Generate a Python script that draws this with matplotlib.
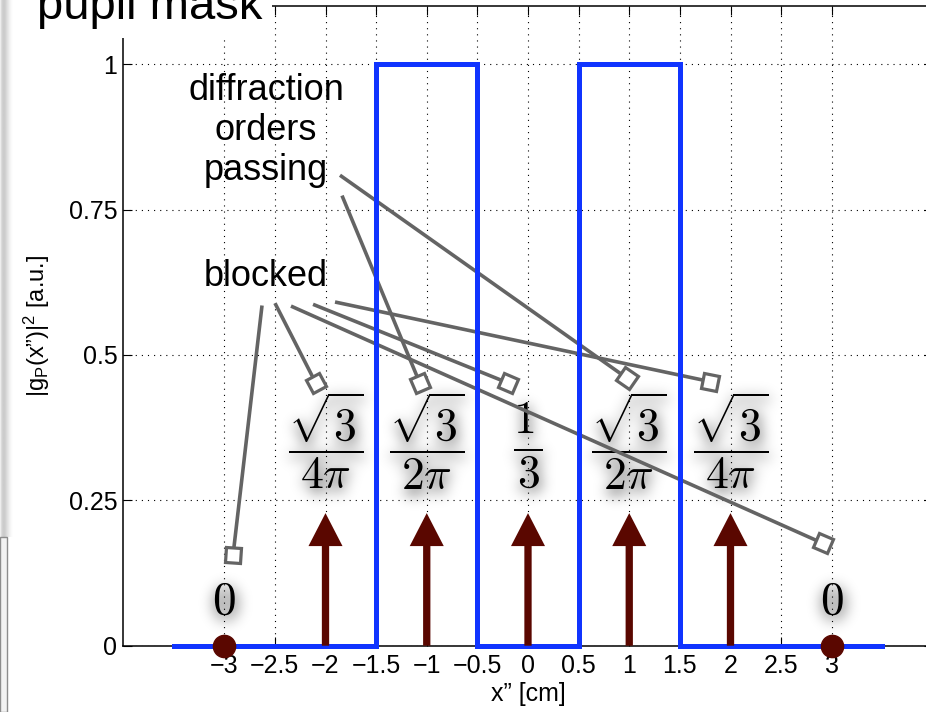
import numpy as np
import matplotlib
matplotlib.use("Agg")
import matplotlib.pyplot as plt
from matplotlib.markers import MarkerStyle
from matplotlib.transforms import Affine2D
from matplotlib.patches import Rectangle
from matplotlib.mathtext import MathTextParser

plt.rcParams['font.family'] = ['Liberation Sans', 'DejaVu Sans']
plt.rcParams['mathtext.fontset'] = 'custom'
plt.rcParams['mathtext.rm'] = 'Liberation Sans'
plt.rcParams['mathtext.it'] = 'Liberation Sans:italic'
plt.rcParams['mathtext.bf'] = 'Liberation Sans:bold'

# ---- data -------------------------------------------------------------
# pupil mask transmission |g_P(x'')|^2
mask_x = [-3.5, -1.5, -1.5, -0.5, -0.5, 0.5, 0.5, 1.5, 1.5, 3.5]
mask_y = [0, 0, 1, 1, 0, 0, 1, 1, 0, 0]

# diffraction orders (delta peaks) and their amplitude labels
order_x = [-2, -1, 0, 1, 2]
order_height = [0.228, 0.228, 0.228, 0.228, 0.228]
order_labels = [r'$\dfrac{\sqrt{3}}{4\pi}$', r'$\dfrac{\sqrt{3}}{2\pi}$',
                r'$\dfrac{1_{\hspace{0}}}{{}^{\hspace{0}}3}$',
                r'$\dfrac{\sqrt{3}}{2\pi}$', r'$\dfrac{\sqrt{3}}{4\pi}$']
order_label_y = [0.352, 0.352, 0.345, 0.352, 0.352]

# vanishing orders
zero_x = [-3, 3]
zero_y = [0, 0]
zero_labels = ['$0$', '$0$']
zero_label_y = 0.075

# callout lines: text anchor -> marked order
passing_start = [(-1.857, 0.809), (-1.837, 0.774)]
passing_end = [(0.978, 0.460), (-1.067, 0.451)]
blocked_start = [(-2.627, 0.585), (-2.499, 0.589), (-2.341, 0.584),
                 (-2.123, 0.587), (-1.906, 0.591)]
blocked_end = [(-2.913, 0.156), (-2.094, 0.451), (2.913, 0.176),
               (-0.200, 0.452), (1.802, 0.454)]

x_ticks = [-3, -2.5, -2, -1.5, -1, -0.5, 0, 0.5, 1, 1.5, 2, 2.5, 3]
x_tick_labels = ['\u22123', '\u22122.5', '\u22122', '\u22121.5', '\u22121',
                 '\u22120.5', '0', '0.5', '1', '1.5', '2', '2.5', '3']
y_ticks = [0, 0.25, 0.5, 0.75, 1]
y_tick_labels = ['0', '0.25', '0.5', '0.75', '1']

# ---- style ------------------------------------------------------------
BLUE = '#1034ff'
DARK_RED = '#5a0700'
GRAY = '#646464'
W, H = 926, 712
AX_RECT = [123 / W, 66.3 / H, 810 / W, 639.7 / H]
XLIM, YLIM = (-4, 4), (0, 1.1)


def checked(label, fallback):
    """Use the label if mathtext can parse it, otherwise a plain version."""
    try:
        MathTextParser('path').parse(label, prop=None)
        return label
    except Exception:
        return fallback


order_labels[2] = checked(order_labels[2], r'$\dfrac{1}{3}$')


def draw_formulas(axis, color='k'):
    for x, ly, lab in zip(order_x, order_label_y, order_labels):
        axis.text(x, ly, lab, fontsize=33, ha='center', va='center',
                  math_fontfamily='cm', color=color, zorder=2)
    for x, lab in zip(zero_x, zero_labels):
        axis.text(x, zero_label_y, lab, fontsize=34, ha='center', va='center',
                  math_fontfamily='cm', color=color, zorder=2)


def gaussian_blur(a, sigma):
    r = int(3 * sigma)
    t = np.arange(-r, r + 1)
    k = np.exp(-t ** 2 / (2 * sigma ** 2))
    k /= k.sum()
    a = np.apply_along_axis(np.convolve, 0, a, k, mode='same')
    a = np.apply_along_axis(np.convolve, 1, a, k, mode='same')
    return a


# soft drop shadow of the formula labels, rendered off-screen and blurred
fig_sh = plt.figure(figsize=(W / 100, H / 100), dpi=100, facecolor='white')
ax_tmp = fig_sh.add_axes(AX_RECT)
ax_tmp.set_xlim(*XLIM)
ax_tmp.set_ylim(*YLIM)
ax_tmp.axis('off')
draw_formulas(ax_tmp)
fig_sh.canvas.draw()
ink = 1.0 - np.asarray(fig_sh.canvas.buffer_rgba())[..., 0].astype(float) / 255.0
plt.close(fig_sh)
soft = gaussian_blur(ink, 7.0)
soft = np.roll(np.roll(soft, 4, axis=0), 1, axis=1)
shadow = np.zeros(soft.shape + (4,))
shadow[..., 3] = np.clip(soft * 1.0, 0, 0.45)

# ---- main figure --------------------------------------------------------
fig = plt.figure(figsize=(W / 100, H / 100), dpi=100)
ax = fig.add_axes(AX_RECT)
ax.set_xlim(*XLIM)
ax.set_ylim(*YLIM)

inv = ax.transData.inverted()
(xl, yb) = inv.transform((0, 0))
(xr, yt) = inv.transform((shadow.shape[1], shadow.shape[0]))
ax.imshow(shadow, extent=(xl, xr, yb, yt), origin='upper', aspect='auto',
          interpolation='bilinear', zorder=1.5)
ax.set_xlim(*XLIM)
ax.set_ylim(*YLIM)

ax.set_xticks(x_ticks)
ax.set_xticklabels(x_tick_labels)
ax.set_yticks(y_ticks)
ax.set_yticklabels(y_tick_labels)
ax.tick_params(direction='in', length=6.5, width=0.8, top=True, right=True,
               labelsize=18, colors='k')
ax.tick_params(axis='x', pad=6)
ax.tick_params(axis='y', pad=4)
ax.grid(True, linestyle=(0, (1, 4.5)), color='k', linewidth=0.8)
ax.set_axisbelow(True)
for s in ax.spines.values():
    s.set_linewidth(1.1)

ax.set_xlabel('x\u201d [cm]', fontsize=18, labelpad=3)
ax.set_ylabel('|g$_\\mathrm{P}$(x\u201d)|$^2$ [a.u.]', fontsize=17, labelpad=12)

draw_formulas(ax)

# callout texts
ax.text(-2.586, 0.886, 'diffraction\norders\npassing', fontsize=26,
        ha='center', va='center', linespacing=1.2, zorder=3)
ax.text(-2.586, 0.635, 'blocked', fontsize=26, ha='center', va='center',
        zorder=3)

# callout lines with square heads
for (x0, y0), (x1, y1) in zip(passing_start + blocked_start,
                              passing_end + blocked_end):
    ax.plot([x0, x1], [y0, y1], color=GRAY, lw=2.6, solid_capstyle='butt',
            zorder=4)
    p0 = ax.transData.transform((x0, y0))
    p1 = ax.transData.transform((x1, y1))
    theta = np.degrees(np.arctan2(p1[1] - p0[1], p1[0] - p0[0]))
    m = MarkerStyle('s', transform=Affine2D().rotate_deg(theta))
    ax.plot([x1], [y1], ls='none', marker=m, markersize=11,
            mfc='white', mec=GRAY, mew=2.3, zorder=7)

# pupil mask
ax.plot(mask_x, mask_y, color=BLUE, lw=3.6, solid_joinstyle='miter',
        clip_on=False, zorder=5)

# diffraction orders as arrows
for x, h in zip(order_x, order_height):
    ax.arrow(x, 0, 0, h, width=0.072, head_width=0.336, head_length=0.0567,
             length_includes_head=True, color=DARK_RED, lw=0, zorder=6)
ax.plot(zero_x, zero_y, 'o', color=DARK_RED, markersize=16, clip_on=False,
        zorder=6)

# page shadow down the left edge
shade = np.array([0.93, 0.86, 0.82, 0.80, 0.80, 0.82, 0.85, 0.88,
                  0.91, 0.94, 0.96, 0.98, 0.99, 1.0])
ax_sh = fig.add_axes([0, 175 / H, 14 / W, 537 / H])
ax_sh.imshow(shade[None, :], cmap='gray', vmin=0, vmax=1, aspect='auto',
             interpolation='bilinear')
ax_sh.axis('off')
fig.patches.append(Rectangle((0, 0), 6.5 / W, 175 / H, transform=fig.transFigure,
                             facecolor='0.95', edgecolor='0.55', lw=1.0,
                             zorder=1))

# heading over the top-left corner
fig.patches.append(Rectangle((14 / W, 1 - 38 / H), 258 / W, 38 / H,
                             transform=fig.transFigure, facecolor='white',
                             edgecolor='none', zorder=1))
fig.text(37 / W, 1 - 19 / H, 'pupil mask', fontsize=34, ha='left',
         va='baseline', zorder=3)

fig.savefig('out.png', dpi=100)
